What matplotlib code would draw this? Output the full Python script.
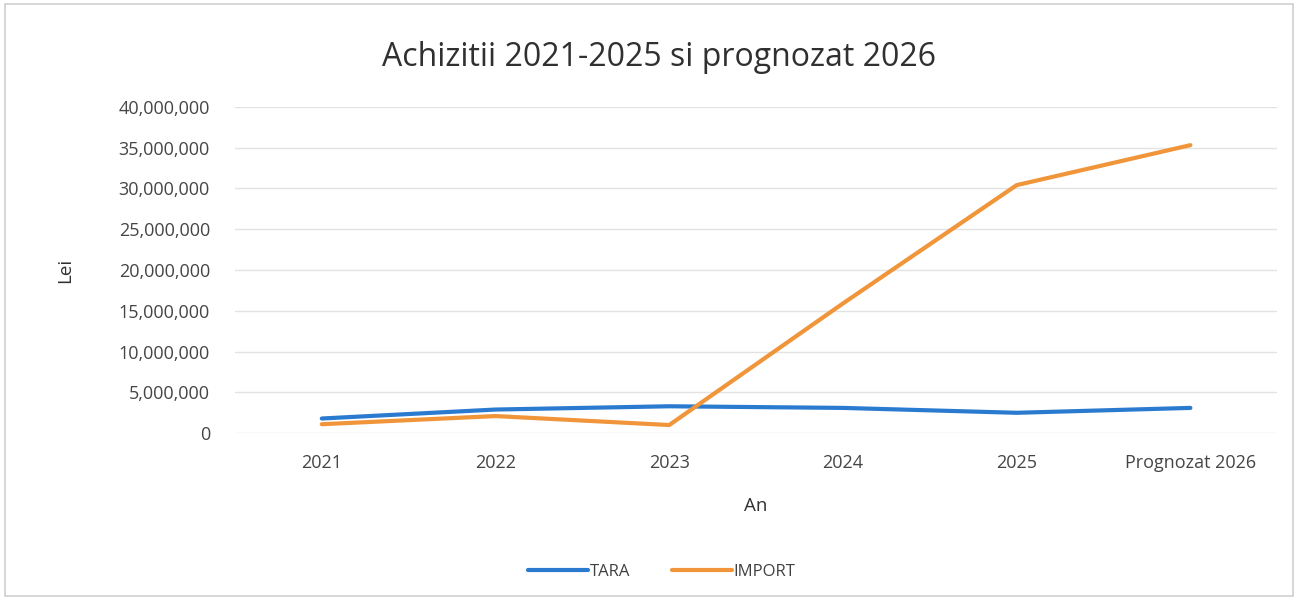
import matplotlib
matplotlib.use("Agg")
import matplotlib.pyplot as plt
from matplotlib.ticker import FuncFormatter, MultipleLocator
from matplotlib.patches import Rectangle

# data
categories = ["2021", "2022", "2023", "2024", "2025", "Prognozat 2026"]
tara = [1.8e6, 2.9e6, 3.3e6, 3.1e6, 2.5e6, 3.1e6]
import_vals = [1.1e6, 2.1e6, 1.0e6, 15.9e6, 30.4e6, 35.3e6]

plt.rcParams['font.family'] = ['Open Sans', 'DejaVu Sans']

fig = plt.figure(figsize=(12.98, 6), dpi=100)
ax = fig.add_axes([0.181, 0.278, 0.803, 0.544])

x = list(range(len(categories)))
ax.plot(x, tara, color="#2a7bd0", lw=3.0, label="TARA", solid_capstyle="round")
ax.plot(x, import_vals, color="#f0953a", lw=3.0, label="IMPORT", solid_capstyle="round")

ax.set_xlim(-0.5, len(categories) - 0.5)
ax.set_ylim(0, 40e6)
ax.yaxis.set_major_locator(MultipleLocator(5e6))
ax.yaxis.set_major_formatter(FuncFormatter(lambda v, p: "{:,.0f}".format(v)))
ax.set_xticks(x)
ax.set_xticklabels(categories)

ax.grid(axis="y", color="#e3e3e3", lw=1.0)
ax.set_axisbelow(True)
for s in ax.spines.values():
    s.set_visible(False)
ax.tick_params(axis="both", length=0, labelsize=13, colors="#454545")
ax.tick_params(axis="x", pad=15)
ax.tick_params(axis="y", pad=18)

# title centred on the whole figure, like the original
fig.text(0.508, 0.905, "Achizitii 2021-2025 si prognozat 2026", fontsize=23,
         color="#303030", ha="center", va="center")
ax.set_xlabel("An", fontsize=13.5, color="#303030", labelpad=18)
fig.text(0.050, 0.55, "Lei", fontsize=13.5, color="#303030", rotation=90,
         ha="center", va="center")

leg = fig.legend(loc="center", bbox_to_anchor=(0.51, 0.047), ncol=2, frameon=False,
                 fontsize=12, handlelength=3.6, handletextpad=0.1, columnspacing=2.5,
                 labelcolor="#404040")

fig.patches.append(Rectangle((0.004, 0.006), 0.992, 0.988, transform=fig.transFigure,
                             fill=False, edgecolor="#d0d0d0", lw=1.2))

fig.savefig("out.png", dpi=100)
